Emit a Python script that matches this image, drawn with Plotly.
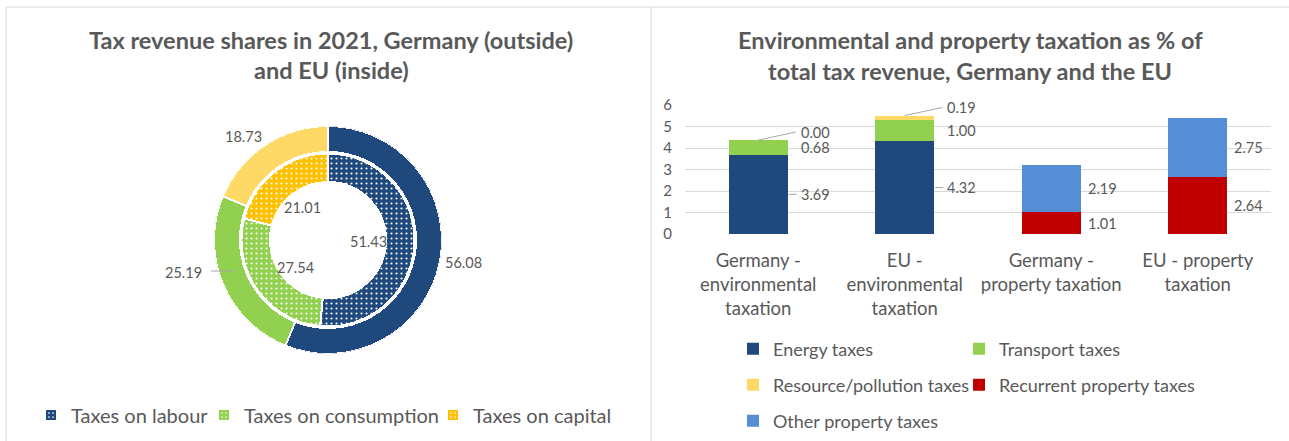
import plotly.graph_objects as go

W, H = 1289, 441

# ---- donut data: tax revenue shares 2021 ----
tax_types = ["Taxes on labour", "Taxes on consumption", "Taxes on capital"]
germany_shares = [56.08, 25.19, 18.73]   # outer ring
eu_shares = [51.43, 27.54, 21.01]        # inner ring

# ---- bar data: environmental and property taxation, % of total tax revenue ----
bar_categories = [
    "Germany -<br>environmental<br>taxation",
    "EU -<br>environmental<br>taxation",
    "Germany -<br>property taxation",
    "EU - property<br>taxation",
]
energy_taxes = [3.69, 4.32, None, None]
transport_taxes = [0.68, 1.00, None, None]
resource_taxes = [0.00, 0.19, None, None]
recurrent_property = [None, None, 1.01, 2.64]
other_property = [None, None, 2.19, 2.75]
y_ticks = [0, 1, 2, 3, 4, 5, 6]

# ---- styling ----
FONT = "Lato"
GREY = "#595959"
LINE = "#D9D9D9"
LEADER = "#A6A6A6"
NAVY = "#1F497D"
GREEN = "#92D050"
outer_colors = [NAVY, GREEN, "#FFD966"]
inner_colors = [NAVY, GREEN, "#FFC000"]


def px(x):
    return x / W


def py(y):
    return 1 - y / H


fig = go.Figure()

# one single-entry legend per item so each key sits at its own spot
donut_legends = ["legend", "legend2", "legend3"]
donut_legend_pos = [(70, 415), (243, 415), (472, 415)]          # text start, row centre
bar_legends = ["legend4", "legend5", "legend6", "legend7", "legend8"]
bar_legend_pos = [(773, 349), (999, 349), (773, 385), (999, 385), (773, 421)]

# ---- donut drawn as two rings of polar bars (angle 0 at 12 o'clock, clockwise) ----
cx, cy = 328, 240          # centre in pixels
R = 114                    # outer radius in pixels = radial axis range
rings = [
    # values, colours, inner radius, outer radius, dotted, in legend
    (eu_shares, inner_colors, 58, 86.5, True, True),
    (germany_shares, outer_colors, 88, 114, False, False),
]
for vals, cols, r0, r1, dotted, in_legend in rings:
    total = sum(vals)
    start = 0.0
    for name, v, col, lg in zip(tax_types, vals, cols, donut_legends):
        span = v / total * 360
        pattern = dict(shape=".", fgcolor="white", bgcolor=col, fillmode="replace",
                       size=5, solidity=0.14) if dotted else dict(shape="")
        fig.add_trace(go.Barpolar(
            r=[r1 - r0], base=[r0], theta=[start + span / 2], width=[span],
            name=name, legendgroup=name, showlegend=in_legend, legend=lg,
            marker=dict(color=col, line=dict(color="white", width=2), pattern=pattern),
            subplot="polar",
        ))
        start += span

# ---- stacked bars on a numeric axis labelled with the categories ----
xpos = list(range(len(bar_categories)))
bar_series = [
    ("Energy taxes", energy_taxes, NAVY),
    ("Transport taxes", transport_taxes, GREEN),
    ("Resource/pollution taxes", resource_taxes, "#FFD966"),
    ("Recurrent property taxes", recurrent_property, "#C00000"),
    ("Other property taxes", other_property, "#558ED5"),
]
BAR_W = 0.4
for (name, vals, col), lg in zip(bar_series, bar_legends):
    fig.add_trace(go.Bar(
        x=xpos, y=vals, name=name, width=BAR_W, marker=dict(color=col, line=dict(width=0)),
        legend=lg, xaxis="x", yaxis="y",
    ))

annotations = []
shapes = []

# panel frames
for x0, y0, x1, y1 in [(6, 7, 6, H), (6, 7, W, 7), (651, 7, 651, H)]:
    shapes.append(dict(type="line", xref="paper", yref="paper",
                       x0=px(x0), y0=py(y0), x1=px(x1), y1=py(y1),
                       line=dict(color=LINE, width=1)))

# titles
title_font = dict(family=FONT, size=23.5, color=GREY)
for text, x, y in [
    ("<b>Tax revenue shares in 2021, Germany (outside)</b>", 331, 40),
    ("<b>and EU (inside)</b>", 331, 70),
    ("<b>Environmental and property taxation as % of</b>", 970, 40),
    ("<b>total tax revenue, Germany and the EU</b>", 970, 71),
]:
    annotations.append(dict(text=text, x=px(x), y=py(y), xref="paper", yref="paper",
                            xanchor="center", yanchor="middle", showarrow=False, font=title_font))

# donut value labels
label_font = dict(family=FONT, size=14.5, color=GREY)
outer_label_pos = [(463, 262), (183, 272), (243, 136)]
inner_label_pos = [(368, 241), (295, 267), (302, 207)]
for vals, positions in [(germany_shares, outer_label_pos), (eu_shares, inner_label_pos)]:
    for v, (x, y) in zip(vals, positions):
        annotations.append(dict(text=f"{v:.2f}", x=px(x), y=py(y), xref="paper", yref="paper",
                                xanchor="center", yanchor="middle", showarrow=False, font=label_font))
shapes.append(dict(type="line", xref="paper", yref="paper",
                   x0=px(211), x1=px(235), y0=py(271), y1=py(271),
                   line=dict(color=LEADER, width=1)))

# bar plot area in pixels
PX_L, PX_R, PX_T, PX_B = 685, 1271, 105, 234
ux = (PX_R - PX_L) / 4.0   # pixels per category
uy = (PX_B - PX_T) / 6.0   # pixels per unit


def dx(p):
    return p / ux


def dy(p):
    return p / uy


# bar value labels at the middle of each segment, right of the bar
base = [0.0] * len(xpos)
for name, vals, col in bar_series:
    for i, v in enumerate(vals):
        if v is None:
            continue
        mid = base[i] + v / 2
        top = base[i] + v
        right = i + BAR_W / 2
        if name == "Resource/pollution taxes":
            ty = top + dy(8)
            shapes.append(dict(type="line", xref="x", yref="y",
                               x0=i, y0=top, x1=right + dx(8), y1=ty,
                               line=dict(color=LEADER, width=1)))
            annotations.append(dict(text=f"{v:.2f}", x=right, y=ty, xref="x", yref="y",
                                    xshift=11, xanchor="left", yanchor="middle",
                                    showarrow=False, font=label_font))
        else:
            shift = 11 if i < 2 else 5
            if name == "Energy taxes":
                shapes.append(dict(type="line", xref="x", yref="y",
                                   x0=right + dx(1), y0=mid, x1=right + dx(9), y1=mid,
                                   line=dict(color=LEADER, width=1)))
            annotations.append(dict(text=f"{v:.2f}", x=right, y=mid, xref="x", yref="y",
                                    xshift=shift, xanchor="left", yanchor="middle",
                                    showarrow=False, font=label_font))
        base[i] = top

legend_common = dict(orientation="h", xanchor="left", yanchor="middle",
                     bgcolor="rgba(0,0,0,0)", itemclick=False, itemdoubleclick=False)
legend_layout = {}
for lg, (tx, ty) in zip(donut_legends, donut_legend_pos):
    legend_layout[lg] = dict(x=px(tx - 39), y=py(ty),
                             font=dict(family=FONT, size=20, color=GREY), **legend_common)
for lg, (tx, ty) in zip(bar_legends, bar_legend_pos):
    legend_layout[lg] = dict(x=px(tx - 40), y=py(ty),
                             font=dict(family=FONT, size=18, color=GREY), **legend_common)

fig.update_layout(
    width=W, height=H,
    margin=dict(l=0, r=0, t=0, b=0, autoexpand=False),
    paper_bgcolor="white", plot_bgcolor="white",
    font=dict(family=FONT, color=GREY),
    barmode="stack",
    polar=dict(
        domain=dict(x=[px(cx - R), px(cx + R)], y=[py(cy + R), py(cy - R)]),
        bgcolor="rgba(0,0,0,0)",
        radialaxis=dict(range=[0, R], visible=False),
        angularaxis=dict(direction="clockwise", rotation=90, visible=False),
        barmode="overlay",
    ),
    xaxis=dict(domain=[px(PX_L), px(PX_R)], range=[-0.5, 3.5],
               tickmode="array", tickvals=xpos, ticktext=bar_categories,
               showgrid=False, zeroline=False, showline=False, ticks="",
               ticklabelstandoff=13,
               tickfont=dict(family=FONT, size=18.5, color=GREY)),
    yaxis=dict(domain=[py(PX_B), py(PX_T)], range=[0, 6],
               tickmode="array", tickvals=y_ticks,
               showgrid=True, gridcolor=LINE, gridwidth=1, zeroline=False, showline=False,
               ticks="", ticklabelstandoff=12,
               tickfont=dict(family=FONT, size=15, color=GREY)),
    annotations=annotations,
    shapes=shapes,
    showlegend=True,
    **legend_layout,
)

fig.write_html("out.html")
